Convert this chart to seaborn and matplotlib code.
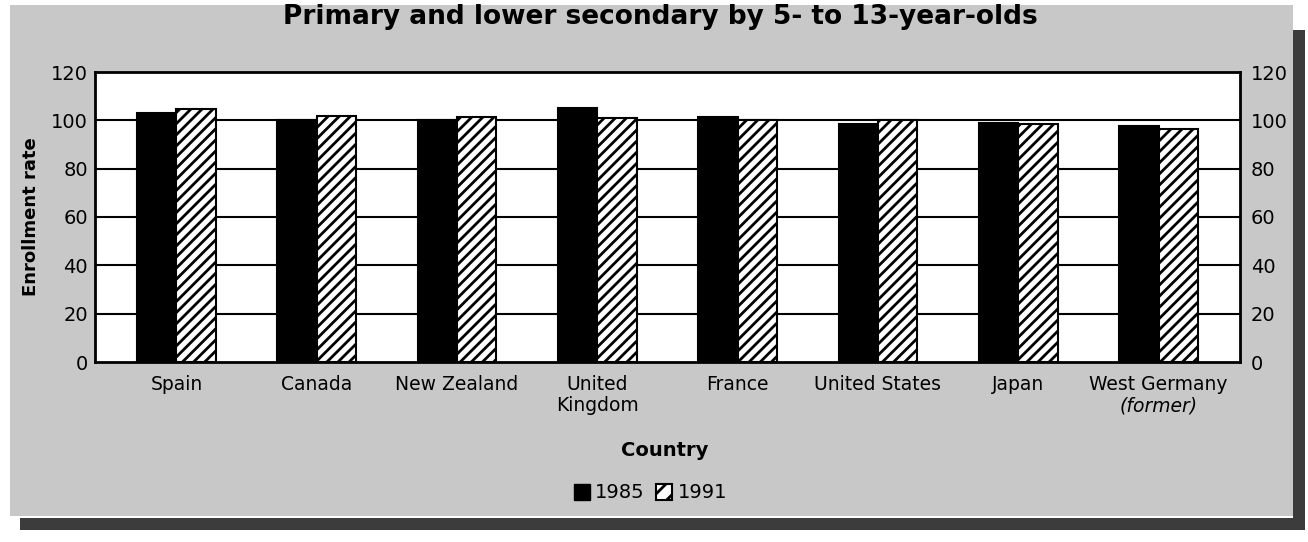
import numpy as np
import pandas as pd
import matplotlib
matplotlib.use("Agg")
import matplotlib.pyplot as plt
from matplotlib.patches import Rectangle
import seaborn as sns

countries = ["Spain", "Canada", "New Zealand", "United\nKingdom", "France",
             "United States", "Japan", "West Germany"]
years = ["1985", "1991"]
rate_1985 = [103, 100, 100, 105, 101.5, 98.5, 99, 97.5]
rate_1991 = [104.5, 102, 101.5, 101, 100, 100, 98.5, 96.5]
yticks = [0, 20, 40, 60, 80, 100, 120]

df = pd.DataFrame({
    "Country": countries * 2,
    "Year": [years[0]] * len(countries) + [years[1]] * len(countries),
    "Rate": rate_1985 + rate_1991,
})

sns.set_theme(style="white")
plt.rcParams["font.family"] = ["DejaVu Sans"]
plt.rcParams["hatch.linewidth"] = 2.0
plt.rcParams["text.color"] = "black"
plt.rcParams["axes.labelcolor"] = "black"
plt.rcParams["xtick.color"] = "black"
plt.rcParams["ytick.color"] = "black"

W, H = 1308, 542
fig = plt.figure(figsize=(W / 100, H / 100), dpi=100, facecolor="white")

def fx(x):
    return x / W

def fy(y):
    return 1 - y / H

# shadow and stippled background
fig.patches.append(Rectangle((fx(1293), fy(530)), fx(12), (530 - 30) / H,
                             transform=fig.transFigure, facecolor="#3c3c3c",
                             edgecolor="none", zorder=-20))
fig.patches.append(Rectangle((fx(20), fy(530)), fx(1285), 12 / H,
                             transform=fig.transFigure, facecolor="#3c3c3c",
                             edgecolor="none", zorder=-20))
fig.patches.append(Rectangle((fx(10), fy(516)), fx(1283), (516 - 5) / H,
                             transform=fig.transFigure, facecolor="#c8c8c8",
                             edgecolor="none", zorder=-10))

ax = fig.add_axes([fx(95), fy(362), fx(1145), 290 / H])
ax.set_facecolor("white")

sns.barplot(data=df, x="Country", y="Rate", hue="Year", hue_order=years,
            palette=["black", "white"], width=0.56, gap=0,
            edgecolor="black", linewidth=1.5, saturation=1,
            legend=False, ax=ax, zorder=3)

n = len(countries)
for i, p in enumerate(ax.patches[:2 * n]):
    if i >= n:
        p.set_hatch("///")
        p.set_facecolor("white")
        p.set_edgecolor("black")

ax.set_ylim(0, 120)
ax.set_xlim(-0.58, n - 1 + 0.58)
ax.set_yticks(yticks)
for v in yticks[1:-1]:
    ax.axhline(v, color="black", lw=1.5, zorder=1)

for s in ax.spines.values():
    s.set_color("black")
    s.set_linewidth(2)

ax.tick_params(axis="y", length=0, labelsize=14, pad=5)
ax.tick_params(axis="x", length=0, labelsize=13.5, pad=9)
ax.set_yticklabels([str(v) for v in yticks])
ticklabels = list(countries)
ticklabels[-1] = ""
ax.set_xticks(range(n))
ax.set_xticklabels(ticklabels, linespacing=1.15)
ax.set_xlabel("")
ax.set_ylabel("Enrollment rate", fontsize=13, fontweight="bold", labelpad=8)

# West Germany label with italic "(former)"
ax.text(n - 1, -5.4, "West Germany", ha="center", va="top", fontsize=13.5,
        transform=ax.transData)
ax.text(n - 1, -14.3, "(former)", ha="center", va="top", fontsize=13.5,
        style="italic", transform=ax.transData)

ax2 = ax.twinx()
ax2.set_ylim(0, 120)
ax2.set_yticks(yticks)
ax2.set_yticklabels([str(v) for v in yticks])
ax2.tick_params(axis="y", length=0, labelsize=14, pad=8)
ax2.grid(False)
for s in ax2.spines.values():
    s.set_visible(False)

fig.text(fx(660), fy(17), "Primary and lower secondary by 5- to 13-year-olds",
         ha="center", va="center", fontsize=19, fontweight="bold")
fig.text(fx(665), fy(450), "Country", ha="center", va="center",
         fontsize=14, fontweight="bold")

# legend
fig.patches.append(Rectangle((fx(574), fy(500)), fx(16), 16 / H,
                             transform=fig.transFigure, facecolor="black",
                             edgecolor="black", lw=1, zorder=5))
fig.text(fx(595), fy(492), years[0], ha="left", va="center", fontsize=14)
fig.patches.append(Rectangle((fx(656), fy(500)), fx(16), 16 / H,
                             transform=fig.transFigure, facecolor="white",
                             edgecolor="black", lw=1.5, hatch="//", zorder=5))
fig.text(fx(678), fy(492), years[1], ha="left", va="center", fontsize=14)

fig.savefig("out.png", dpi=100, facecolor="white")
